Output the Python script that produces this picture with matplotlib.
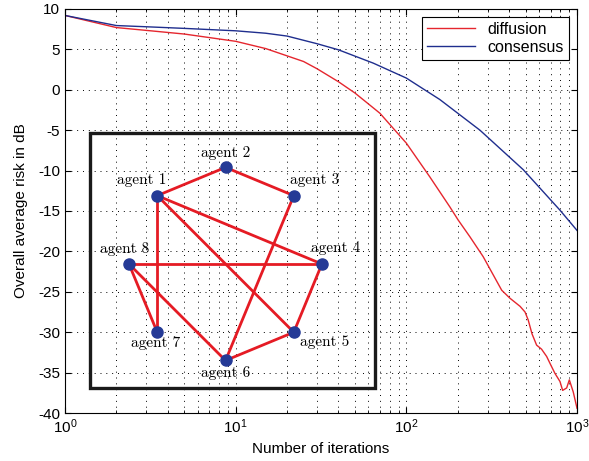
import numpy as np
import matplotlib
matplotlib.use("Agg")
import matplotlib.pyplot as plt

plt.rcParams['font.family'] = ['Liberation Sans', 'DejaVu Sans']
plt.rcParams['mathtext.fontset'] = 'custom'
plt.rcParams['mathtext.rm'] = 'Liberation Sans'

# learning curves
it_diff = [1, 2, 3, 5, 10, 15, 20, 25, 30, 40, 50, 70, 100, 137, 180, 201, 236, 282,
           362, 405, 464, 496, 518, 545, 580, 620, 664, 700, 743, 795, 824, 870, 902, 951, 1000]
db_diff = [9.2, 7.7, 7.35, 6.9, 6.0, 5.1, 4.2, 3.5, 2.6, 1.0, -0.4, -2.9, -6.6, -10.75, -14.5, -16.1,
           -18.2, -20.65, -24.8, -25.8, -26.8, -27.5, -28.5, -30.2, -31.6, -32.1, -33.0, -34.0,
           -35.1, -36.1, -37.2, -36.9, -35.9, -37.4, -39.4]
it_cons = [1, 2, 3, 5, 10, 15, 20, 30, 40, 64, 100, 157, 270, 485, 795, 1000]
db_cons = [9.2, 7.95, 7.8, 7.6, 7.3, 7.0, 6.65, 5.7, 4.95, 3.3, 1.45, -1.2, -5.0, -9.9, -14.9, -17.4]

# network inset (placed in data coordinates of the main axes)
agents = ['agent 1', 'agent 2', 'agent 3', 'agent 4', 'agent 5', 'agent 6', 'agent 7', 'agent 8']
agent_x = [3.47, 8.72, 21.9, 32.0, 21.9, 8.72, 3.47, 2.37]
agent_y = [-13.1, -9.6, -13.1, -21.56, -30.0, -33.5, -30.0, -21.56]
edges = [(1, 2), (2, 3), (1, 7), (1, 4), (1, 5), (8, 4), (8, 7), (8, 6), (3, 6), (6, 5), (5, 4)]
box_x = [1.40, 65.5]
box_y = [-36.9, -5.35]
label_off = [(-11, 11), (0, 10), (15, 11), (10, 11.5), (22, -7.5), (0, -9), (-1.5, -8), (-3, 11)]

fig = plt.figure(figsize=(5.89, 4.61), dpi=100)
ax = fig.add_axes([0.1104, 0.1041, 0.8692, 0.8764])

ax.plot(it_diff, db_diff, color='#e5262e', lw=1.0, label='diffusion')
ax.plot(it_cons, db_cons, color='#1f2e8e', lw=1.0, label='consensus')

ax.set_xscale('log')
ax.set_xlim(1, 1000)
ax.set_ylim(-40, 10)
ax.set_yticks(np.arange(-40, 11, 5))
ax.set_yticklabels([str(v) for v in range(-40, 11, 5)])
ax.grid(True, which='major', axis='both', color='black', linestyle=(0, (1, 5)), lw=0.7)
ax.grid(True, which='minor', axis='x', color='black', linestyle=(0, (1, 5)), lw=0.7)
ax.tick_params(which='both', direction='in', top=True, right=True, labelsize=11)
ax.tick_params(which='major', length=4)
ax.tick_params(which='minor', length=2.5)
ax.set_xlabel('Number of iterations', fontsize=11, labelpad=4)
ax.set_ylabel('Overall average risk in dB', fontsize=11, labelpad=7)

# box around the network
ax.add_patch(plt.Rectangle((box_x[0], box_y[0]), box_x[1] - box_x[0], box_y[1] - box_y[0],
                           fill=False, ec='#1a1a1a', lw=2.4, zorder=3))
for a, b in edges:
    ax.plot([agent_x[a - 1], agent_x[b - 1]], [agent_y[a - 1], agent_y[b - 1]],
            color='#e51b24', lw=2.0, zorder=4, solid_capstyle='round')
ax.plot(agent_x, agent_y, 'o', color='#253a96', ms=8, zorder=5)
for name, x, y, off in zip(agents, agent_x, agent_y, label_off):
    ax.annotate(name, (x, y), xytext=off, textcoords='offset points', ha='center', va='center',
                fontsize=11, family=['cmr10', 'DejaVu Serif'], zorder=6)

leg = ax.legend(loc='upper right', bbox_to_anchor=(0.984, 0.980), borderaxespad=0, fontsize=11.5,
                fancybox=False, edgecolor='black', framealpha=1, handlelength=3.0,
                borderpad=0.3, labelspacing=0.2)
leg.get_frame().set_linewidth(0.8)

fig.savefig('out.png', dpi=100)
